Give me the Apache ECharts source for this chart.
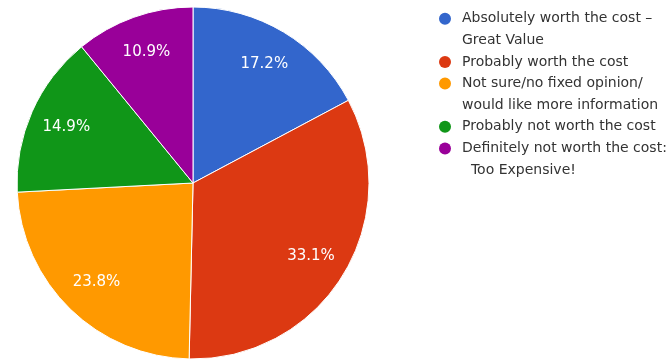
<!DOCTYPE html>
<html>
<head>
<meta charset="utf-8">
<script src="https://cdn.jsdelivr.net/npm/echarts@6/dist/echarts.min.js"></script>
<style>
  html, body { margin: 0; padding: 0; background: #fff; }
  #chart { width: 672px; height: 359px; }
</style>
</head>
<body>
<div id="chart"></div>
<script>
// Survey answers: is it worth the cost?
const categories = [
  'Absolutely worth the cost \u2013\nGreat Value',
  'Probably worth the cost',
  'Not sure/no fixed opinion/\nwould like more information',
  'Probably not worth the cost',
  'Definitely not worth the cost:\n  Too Expensive!'
];
const values = [17.2, 33.1, 23.8, 14.9, 10.9];
const colors = ['#3366cc', '#dc3912', '#ff9900', '#109618', '#990099'];

const FONT = 'DejaVu Sans, Arial, sans-serif';
const R = 176;

const chart = echarts.init(document.getElementById('chart'), null, { renderer: 'canvas' });

// coloured dot markers drawn inline so they sit on the first line of each entry
const rich = { sp: { width: 23 }, gap: { width: 11 } };
colors.forEach((c, i) => {
  rich['d' + i] = { width: 12, height: 12, borderRadius: 6, backgroundColor: c };
});

const pieData = categories.map((name, i) => ({
  name: name,
  value: values[i],
  itemStyle: { color: colors[i] }
}));

chart.setOption({
  animation: false,
  color: colors,
  legend: {
    orient: 'vertical',
    left: 428,
    top: 3,
    itemWidth: 0,
    itemHeight: 0,
    itemGap: 0,
    icon: 'rect',
    selectedMode: false,
    data: categories,
    formatter: function (name) {
      const i = categories.indexOf(name);
      const lines = name.split('\n');
      return lines.map((l, k) => (k === 0 ? '{d' + i + '|}{gap|}' : '{sp|}') + l).join('\n');
    },
    textStyle: {
      fontFamily: FONT,
      fontSize: 14,
      color: '#333',
      lineHeight: 21.6,
      rich: rich
    }
  },
  series: [
    {
      type: 'pie',
      center: [193, 183],
      radius: [0, R],
      startAngle: 90,
      clockwise: true,
      label: { show: false },
      labelLine: { show: false },
      emphasis: { disabled: true },
      itemStyle: { borderColor: '#fff', borderWidth: 1 },
      data: pieData
    },
    {
      // percentage labels placed about three quarters of the way out
      type: 'pie',
      center: [193, 183],
      radius: [R * 0.54, R],
      startAngle: 90,
      clockwise: true,
      silent: true,
      itemStyle: { color: 'rgba(0,0,0,0)' },
      labelLine: { show: false },
      emphasis: { disabled: true },
      label: {
        show: true,
        position: 'inside',
        color: '#fff',
        fontFamily: FONT,
        fontSize: 15,
        formatter: p => p.value.toFixed(1) + '%'
      },
      data: categories.map((name, i) => ({ name: name, value: values[i] }))
    }
  ]
});
</script>
</body>
</html>
